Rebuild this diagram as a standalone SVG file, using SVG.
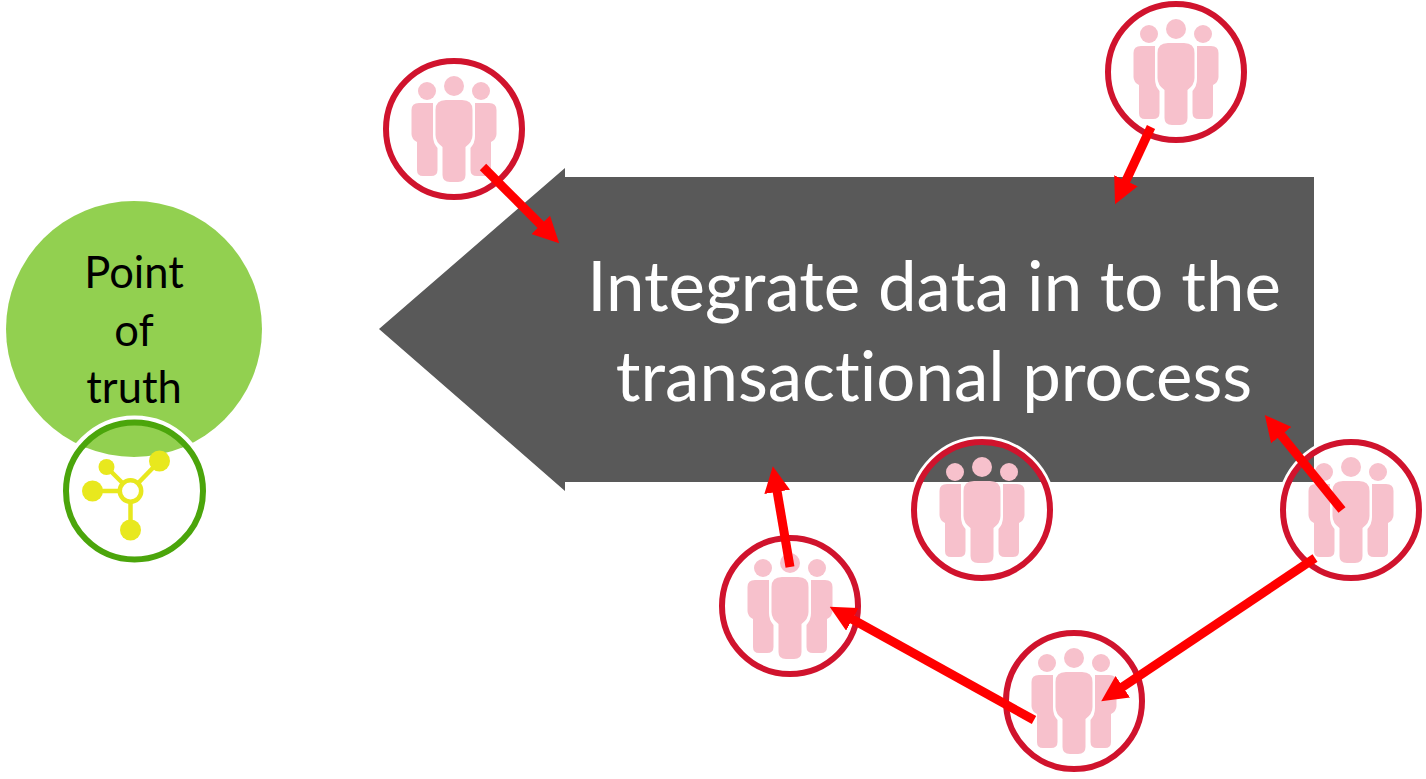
<svg xmlns="http://www.w3.org/2000/svg" width="1426" height="779" viewBox="0 0 1426 779">
<style>
.halo{fill:none;stroke:#fff;stroke-width:4.5}
.ring{fill:none;stroke:#D0132D;stroke-width:6}
.p{fill:#F7C1CC}
.conn{fill:none;stroke:#FF0000;stroke-width:9;marker-end:url(#ah)}
text{font-family:Lato,"Open Sans",sans-serif;text-anchor:middle;font-variant-ligatures:none}
.t{fill:#fff;font-size:69px}
.s{fill:#000;font-size:43.5px}
.y{fill:#E8E81E}
.yl{stroke:#E8E81E;stroke-width:4.5;fill:none}
</style>
<defs>
<marker id="ah" markerUnits="userSpaceOnUse" markerWidth="26" markerHeight="26" refX="13" refY="13" orient="auto">
<path d="M0,0 L26,13 L0,26 Z" fill="#FF0000"/>
</marker>
<g id="people">
<circle class="halo" r="71.5"/>
<circle class="ring" r="68"/>
<circle class="p" cy="-43" r="10"/>
<circle class="p" cx="-27" cy="-38" r="9"/>
<circle class="p" cx="27" cy="-38" r="9"/>
<path class="p" d="M-8,-29H8Q18.500,-29 18.500,-19V6Q18.500,13 11.500,18V46Q11.500,53 4,53H-4Q-11.500,53 -11.500,46V18Q-18.500,13 -18.500,6V-19Q-18.500,-29 -8,-29Z"/>
<path class="p" d="M-21,-26H-35Q-42.500,-26 -42.500,-19V5Q-42.500,10 -37,13V41Q-37,47 -31,47H-23Q-16.500,47 -16.500,41V19Q-21,14 -21,7Z"/>
<path class="p" d="M21,-26H35Q42.500,-26 42.500,-19V5Q42.500,10 37,13V41Q37,47 31,47H23Q16.500,47 16.500,41V19Q21,14 21,7Z"/>
</g>
</defs>
<rect width="1426" height="779" fill="#fff"/>
<g id="arrow-shape">
<polygon points="379,329 565,168 565,177 1314,177 1314,482 565,482 565,491" fill="#595959"/>
<text class="t" x="934" y="311">Integrate data in to the</text>
<text class="t" x="934" y="401">transactional process</text>
</g>
<g id="point-of-truth">
<circle cx="134" cy="329" r="128" fill="#92D050"/>
<text class="s" x="134" y="288">Point</text>
<text class="s" x="134" y="346">of</text>
<text class="s" x="134" y="403">truth</text>
</g>
<g id="truth-icon" transform="translate(134.5 491)">
<circle r="73" fill="none" stroke="#fff" stroke-width="5"/>
<circle r="68.5" fill="none" stroke="#4BA50B" stroke-width="6"/>
<g class="yl">
<line x1="-4" y1="0" x2="-42" y2="0"/>
<line x1="-4" y1="0" x2="-28" y2="-24"/>
<line x1="-4" y1="0" x2="25" y2="-30"/>
<line x1="-4" y1="0" x2="-4" y2="39"/>
</g>
<circle cx="-42" cy="0" r="10.5" class="y"/>
<circle cx="-28" cy="-24" r="8" class="y"/>
<circle cx="25" cy="-30" r="10.5" class="y"/>
<circle cx="-4" cy="39" r="10.5" class="y"/>
<circle cx="-4" cy="0" r="10.7" fill="#fff" stroke="#E8E81E" stroke-width="4.5"/>
</g>
<g id="person-1"><use href="#people" x="454" y="129"/></g>
<g id="person-2"><use href="#people" x="1176" y="72"/></g>
<g id="person-3"><use href="#people" x="982" y="510"/></g>
<g id="person-4"><use href="#people" x="1351" y="510"/></g>
<g id="person-5"><use href="#people" x="790" y="606"/></g>
<g id="person-6"><use href="#people" x="1074" y="701"/></g>
<g id="connectors">
<line class="conn" x1="483" y1="167" x2="550" y2="234"/>
<line class="conn" x1="1151" y1="127" x2="1120.500" y2="192.500"/>
<line class="conn" x1="1342" y1="510" x2="1273" y2="425"/>
<line class="conn" x1="1315" y1="558" x2="1112" y2="694"/>
<line class="conn" x1="1034" y1="720" x2="841" y2="613"/>
<line class="conn" x1="790" y1="567" x2="775" y2="479"/>
</g>
</svg>
